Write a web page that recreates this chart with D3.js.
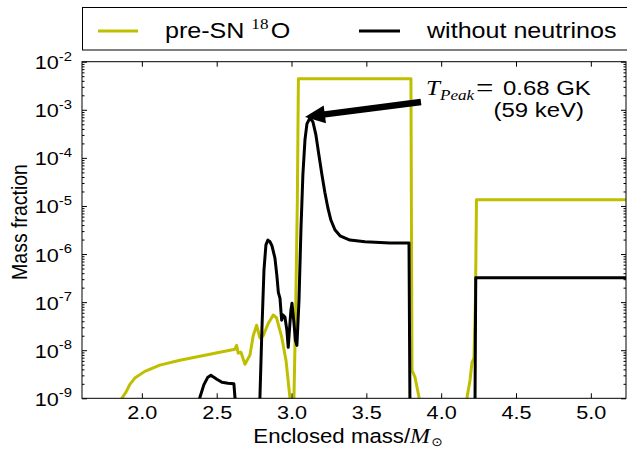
<!DOCTYPE html>
<html>
<head>
<meta charset="utf-8">
<script src="https://cdn.jsdelivr.net/npm/d3@7"></script>
<style>
  html, body { margin: 0; padding: 0; background: #fff; }
  svg { display: block; }
</style>
</head>
<body>
<svg id="chart" width="627" height="450"></svg>
<script>
// Enclosed mass (solar masses) and 18O mass fraction, pre-supernova profile
const massPreSN = [1.84, 1.866, 1.893, 1.920, 1.953, 2.020, 2.120, 2.254, 2.388, 2.521,
  2.622, 2.633, 2.644, 2.662, 2.689, 2.722, 2.744, 2.767, 2.789, 2.811,
  2.844, 2.878, 2.900, 2.934, 2.963, 2.989, 3.003, 3.016, 3.029, 3.039,
  3.046, 3.798, 3.805, 3.825, 3.852, 3.865, 4.159, 4.173, 4.193, 4.206,
  4.219, 4.229, 4.236, 5.24];
const o18PreSN = [5.0e-10, 1.0e-9, 1.33e-9, 1.95e-9, 2.63e-9, 3.63e-9, 4.9e-9, 6.2e-9, 7.5e-9, 9.1e-9,
  1.05e-8, 1.26e-8, 8.7e-9, 9.1e-9, 5.1e-9, 7.9e-9, 2.0e-8, 3.3e-8, 1.8e-8, 2.0e-8,
  3.6e-8, 5.4e-8, 4.7e-8, 1.9e-8, 6.2e-9, 1.05e-9, 7.0e-10, 9.0e-10, 1.1e-7, 1.33e-5,
  4.4e-3, 4.4e-3, 3.8e-9, 2.75e-9, 1.05e-9, 7.0e-10, 7.0e-10, 1.05e-9, 2.4e-9, 5.6e-9,
  6.8e-9, 1.1e-7, 1.35e-5, 1.35e-5];

// Enclosed mass and 18O mass fraction after the explosion, without neutrinos
const massNoNu = [2.374, 2.388, 2.414, 2.441, 2.461, 2.481, 2.501, 2.535, 2.575, 2.615,
  2.622, 2.628, 2.782, 2.789, 2.802, 2.816, 2.829, 2.842, 2.856, 2.869,
  2.889, 2.902, 2.912, 2.923, 2.934, 2.943, 2.956, 2.969, 2.978, 2.986,
  2.996, 3.003, 3.016, 3.026, 3.036, 3.050, 3.063, 3.076, 3.090, 3.103,
  3.123, 3.143, 3.163, 3.183, 3.203, 3.223, 3.243, 3.263, 3.290, 3.324,
  3.390, 3.491, 3.658, 3.785, 3.791, 3.795, 4.226, 4.231, 5.24];
const o18NoNu = [7.0e-10, 1.05e-9, 1.9e-9, 2.75e-9, 3.0e-9, 2.75e-9, 2.5e-9, 2.15e-9, 2.05e-9, 2.0e-9,
  1.05e-9, 7.0e-10, 7.0e-10, 1.05e-9, 2.6e-8, 4.7e-7, 1.55e-6, 1.95e-6, 1.8e-6, 1.5e-6,
  8.3e-7, 3.6e-7, 1.6e-7, 1.2e-7, 4.2e-8, 5.4e-8, 4.9e-8, 2.6e-8, 1.15e-8, 2.6e-8,
  6.8e-8, 9.5e-8, 3.8e-8, 1.6e-8, 1.26e-8, 1.1e-7, 3.2e-6, 4.5e-5, 2.4e-4, 5.1e-4,
  6.8e-4, 5.6e-4, 3.0e-4, 1.15e-4, 4.5e-5, 1.9e-5, 9.1e-6, 5.1e-6, 3.2e-6, 2.4e-6,
  1.95e-6, 1.8e-6, 1.7e-6, 1.7e-6, 1.05e-9, 7.0e-10, 7.0e-10, 3.2e-7, 3.2e-7];

// Axis ticks
const xTicks = [2.0, 2.5, 3.0, 3.5, 4.0, 4.5, 5.0];
const yTickExponents = [-9, -8, -7, -6, -5, -4, -3, -2];

// Legend entries and peak annotation
const seriesNames = ["pre-SN", "without neutrinos"];
const peakText = ["0.68 GK", "(59 keV)"];
const arrowTail = [3.865, 1.45e-3];
const arrowTip = [3.09, 7.1e-4];

const S = 1.14;                 // horizontal text stretch
const plot = { left: 82, right: 626, top: 61.7, bottom: 398.3 };
const sans = "'Liberation Sans', Arial, Helvetica, sans-serif";
const serif = "'Liberation Serif', 'DejaVu Serif', serif";
const yellow = "#bfbf00";

const svg = d3.select("#chart");

const x = d3.scaleLinear().domain([1.6, 5.235]).range([plot.left, plot.right]);
const y = d3.scaleLog().domain([1e-9, 1e-2]).range([plot.bottom, plot.top]);

function place(sel, tx, ty, rot) {
  return sel.attr("transform", `translate(${tx},${ty}) scale(${S},1)` + (rot ? ` rotate(${rot})` : ""));
}

svg.append("defs").append("clipPath").attr("id", "plotClip")
  .append("rect")
  .attr("x", plot.left).attr("y", plot.top)
  .attr("width", plot.right - plot.left).attr("height", plot.bottom - plot.top);

// Data lines
const line = d3.line().x(d => x(d[0])).y(d => y(d[1]));
const lines = svg.append("g").attr("clip-path", "url(#plotClip)");
lines.append("path")
  .datum(d3.zip(massPreSN, o18PreSN))
  .attr("d", line)
  .attr("fill", "none").attr("stroke", yellow).attr("stroke-width", 3)
  .attr("stroke-linejoin", "round");
lines.append("path")
  .datum(d3.zip(massNoNu, o18NoNu))
  .attr("d", line)
  .attr("fill", "none").attr("stroke", "#000").attr("stroke-width", 3)
  .attr("stroke-linejoin", "round");

// Minor log ticks
const minorTicks = [];
for (let e = -9; e < -2; e++) for (let k = 2; k <= 9; k++) minorTicks.push(k * Math.pow(10, e));
const majorVals = yTickExponents.map(e => Math.pow(10, e));

function styleAxis(g) {
  g.select(".domain").remove();
  g.selectAll(".tick line").attr("stroke", "#000").attr("stroke-width", 1);
}

// Bottom axis with labels
const xAxisG = svg.append("g")
  .attr("transform", `translate(0,${plot.bottom})`)
  .call(d3.axisBottom(x).tickValues(xTicks).tickSize(-5).tickFormat(d3.format(".1f")))
  .call(styleAxis);
xAxisG.selectAll(".tick text")
  .attr("y", null).attr("dy", null)
  .attr("fill", "#000")
  .style("font-family", sans).style("font-size", "19px")
  .attr("text-anchor", "middle")
  .each(function () { place(d3.select(this), 0, 21); });

// Top axis ticks
svg.append("g")
  .attr("transform", `translate(0,${plot.top})`)
  .call(d3.axisTop(x).tickValues(xTicks).tickSize(-5).tickFormat(""))
  .call(styleAxis);

// Left and right log ticks
svg.append("g").attr("transform", `translate(${plot.left},0)`)
  .call(d3.axisLeft(y).tickValues(majorVals).tickSize(-5).tickFormat(""))
  .call(styleAxis);
svg.append("g").attr("transform", `translate(${plot.left},0)`)
  .call(d3.axisLeft(y).tickValues(minorTicks).tickSize(-2.5).tickFormat(""))
  .call(styleAxis);
svg.append("g").attr("transform", `translate(${plot.right},0)`)
  .call(d3.axisRight(y).tickValues(majorVals).tickSize(-5).tickFormat(""))
  .call(styleAxis);
svg.append("g").attr("transform", `translate(${plot.right},0)`)
  .call(d3.axisRight(y).tickValues(minorTicks).tickSize(-2.5).tickFormat(""))
  .call(styleAxis);

// Y tick labels as powers of ten
const yLabels = svg.append("g");
yTickExponents.forEach(e => {
  const t = yLabels.append("text")
    .attr("text-anchor", "end")
    .style("font-family", sans).attr("fill", "#000");
  t.append("tspan").style("font-size", "19px").text("10");
  t.append("tspan").style("font-size", "13px").attr("dy", -8.5).text(String(e));
  place(t, 72, y(Math.pow(10, e)) + 7.5);
});

// Plot frame
svg.append("rect")
  .attr("x", plot.left).attr("y", plot.top)
  .attr("width", plot.right - plot.left).attr("height", plot.bottom - plot.top)
  .attr("fill", "none").attr("stroke", "#000").attr("stroke-width", 1);

// Axis titles
const xTitle = svg.append("text").attr("text-anchor", "middle").attr("fill", "#000");
xTitle.append("tspan").style("font-family", sans).style("font-size", "19.5px").text("Enclosed mass/");
xTitle.append("tspan").style("font-family", serif).style("font-style", "italic").style("font-size", "21px").text("M");
xTitle.append("tspan").style("font-family", "'DejaVu Sans', sans-serif").style("font-size", "12px").attr("dx", 1).attr("dy", 3).text("\u2299");
place(xTitle, 348, 443);

const yTitle = svg.append("text").attr("text-anchor", "middle").attr("fill", "#000")
  .style("font-family", sans).style("font-size", "19.5px").text("Mass fraction");
place(yTitle, 27, 222, -90);

// Peak annotation arrow
(function () {
  const tx = x(arrowTail[0]), ty = y(arrowTail[1]);
  const px = x(arrowTip[0]), py = y(arrowTip[1]);
  const len = Math.hypot(tx - px, ty - py);
  const ux = (tx - px) / len, uy = (ty - py) / len;
  const nx = -uy, ny = ux;
  const headLen = 20, headHalf = 9, shaftHalf = 3.2;
  const bx = px + ux * headLen, by = py + uy * headLen;
  const pts = [
    [px, py],
    [bx + nx * headHalf, by + ny * headHalf],
    [bx + nx * shaftHalf, by + ny * shaftHalf],
    [tx + nx * shaftHalf, ty + ny * shaftHalf],
    [tx - nx * shaftHalf, ty - ny * shaftHalf],
    [bx - nx * shaftHalf, by - ny * shaftHalf],
    [bx - nx * headHalf, by - ny * headHalf]
  ];
  svg.append("polygon").attr("points", pts.map(p => p.join(",")).join(" ")).attr("fill", "#000");
})();

// Peak annotation text
place(svg.append("text").style("font-family", serif).style("font-style", "italic")
  .style("font-size", "22px").attr("fill", "#000").text("T"), 426, 95);
place(svg.append("text").style("font-family", serif).style("font-style", "italic")
  .style("font-size", "15px").attr("fill", "#000").text("Peak"), 440, 100);
place(svg.append("text").style("font-family", serif)
  .style("font-size", "27px").attr("fill", "#000").text("="), 476, 97);
place(svg.append("text").style("font-family", sans)
  .style("font-size", "21px").attr("fill", "#000").text(peakText[0]), 503, 95);
place(svg.append("text").style("font-family", sans).attr("text-anchor", "end")
  .style("font-size", "21px").attr("fill", "#000").text(peakText[1]), 584, 117);

// Legend
const legend = svg.append("g");
legend.append("rect")
  .attr("x", plot.left + 0.5).attr("y", 7.5).attr("width", 600).attr("height", 42.5)
  .attr("fill", "#fff").attr("stroke", "#000").attr("stroke-width", 1);
legend.append("line").attr("x1", 98).attr("x2", 138).attr("y1", 31).attr("y2", 31)
  .attr("stroke", yellow).attr("stroke-width", 3);
legend.append("line").attr("x1", 359).attr("x2", 400).attr("y1", 31).attr("y2", 31)
  .attr("stroke", "#000").attr("stroke-width", 3);
const l1 = legend.append("text").attr("fill", "#000");
l1.append("tspan").style("font-family", sans).style("font-size", "22px").text(seriesNames[0] + " ");
l1.append("tspan").style("font-family", serif).style("font-size", "15px").attr("dy", -9).text("18");
l1.append("tspan").style("font-family", sans).style("font-size", "22px").attr("dx", 2).attr("dy", 9).text("O");
place(l1, 165, 38);
place(legend.append("text").attr("fill", "#000").style("font-family", sans)
  .style("font-size", "22px").text(seriesNames[1]), 427, 38);
</script>
</body>
</html>
